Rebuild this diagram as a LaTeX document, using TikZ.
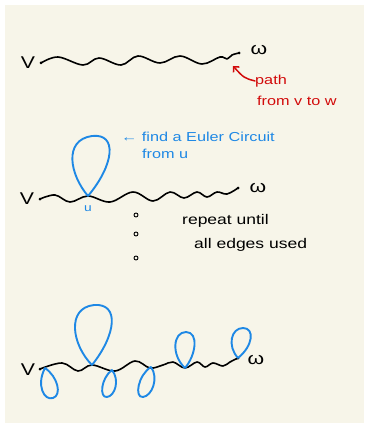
\documentclass[tikz,border=0pt]{standalone}
\usepackage{fontspec}
\setmainfont{Liberation Sans}
\newfontfamily\hand[FakeStretch=1.25]{Liberation Sans}
\usetikzlibrary{arrows.meta}
\definecolor{paper}{HTML}{F7F5E9}
\definecolor{inkblue}{HTML}{1E88E5}
\definecolor{inkred}{HTML}{D20A0A}
\begin{document}
\begin{tikzpicture}[x=1pt,y=-1pt,
  wave/.style={line width=1.6pt, line cap=round, line join=round},
  lp/.style={inkblue, line width=1.9pt, line cap=round, line join=round},
  vdot/.style={circle, fill=black, inner sep=0pt, minimum size=3pt},
  lbl/.style={font=\hand\fontsize{17}{20}\selectfont, inner sep=0pt},
  note/.style={font=\hand\fontsize{13}{15}\selectfont, inner sep=0pt, anchor=west},
  ring/.style={circle, draw, line width=0.9pt, inner sep=0pt, minimum size=4pt}]
\useasboundingbox (0,0) rectangle (366,425);
\fill[white] (0,0) rectangle (366,425);
\fill[paper] (5,5) rectangle (364,423);

% ---- top row
\node[lbl] (V1) at (28,63) {V};
\node[vdot] (a1) at (41,63) {};
\node[vdot] (b1) at (239,53) {};
\node[lbl] (W1) at (259,50) {ω};
\draw[wave] plot[smooth, tension=0.6] coordinates {(a1.center) (58,57) (83,65) (99,58) (121,65) (138,56) (160,63) (180,56) (202,64) (220,57) (227,59) (232,55) (b1.center)};
\node[note, text=inkred] (path) at (255,81) {path};
\node[note, text=inkred] (fromvw) at (257,101) {from v to w};
\coordinate (rtip) at (233,66);
\draw[inkred, line width=1.5pt, line cap=round, -{Straight Barb[length=4pt,width=8pt]}] (path.west) .. controls (244,78) .. (rtip);

% ---- middle row
\node[lbl] (V2) at (27,199) {V};
\node[vdot] (a2) at (40,199) {};
\node[vdot] (b2) at (238,188) {};
\node[lbl] (W2) at (258,188) {ω};
\coordinate (u) at (88,196);
\draw[wave] plot[smooth, tension=0.6] coordinates {(a2.center) (55,195) (70,202) (u) (110,202) (133,192) (153,201) (170,192) (184,198) (197,192) (207,197) (217,192) (227,194) (b2.center)};
\draw[lp] (u) .. controls (70,175) and (63,140) .. (92,136) .. controls (118,133) and (114,165) .. (u);
\node[font=\hand\fontsize{11}{13}\selectfont, text=inkblue, inner sep=0pt] (ulab) at (88,209) {u};
\node[note, text=inkblue] (find) at (121,137) {← find a Euler Circuit};
\node[note, text=inkblue] (fromu) at (142,154) {from u};
\node[ring] (d1) at (136,215) {};
\node[ring] (d2) at (136,234) {};
\node[ring] (d3) at (136,258) {};
\node[note, font=\hand\fontsize{14}{16}\selectfont] (rep) at (182,221) {repeat until};
\node[note, font=\hand\fontsize{14}{16}\selectfont] (all) at (194,245) {all edges used};

% ---- bottom row
\node[lbl] (V3) at (28,370) {V};
\node[vdot] (a3) at (40,369) {};
\node[vdot] (b3) at (238,358) {};
\node[lbl] (W3) at (256,360) {ω};
\coordinate (c1) at (92,365);
\coordinate (c2) at (45,368);
\coordinate (c3) at (112,370);
\coordinate (c4) at (151,367);
\coordinate (c5) at (185,368);
\draw[wave] plot[smooth, tension=0.6] coordinates {(a3.center) (62,363) (78,371) (c1) (115,371) (135,361) (150,368) (163,365) (173,362) (c5) (197,362) (205,367) (213,363) (223,366) (230,362) (b3.center)};
\draw[lp] (c1) .. controls (72,345) and (66,308) .. (94,305) .. controls (120,303) and (116,335) .. (c1);
\draw[lp] (c2) .. controls (36,385) and (44,401) .. (53,398) .. controls (62,395) and (58,377) .. (c2);
\draw[lp] (c3) .. controls (101,378) and (99,398) .. (107,397) .. controls (115,396) and (120,380) .. (c3);
\draw[lp] (c4) .. controls (138,375) and (134,398) .. (143,397) .. controls (152,396) and (159,378) .. (c4);
\draw[lp] (c5) .. controls (171,355) and (173,332) .. (186,332) .. controls (199,332) and (196,355) .. (c5);
\draw[lp] (b3.center) .. controls (227,346) and (231,328) .. (243,328) .. controls (255,328) and (253,346) .. (b3.center);
\end{tikzpicture}
\end{document}
